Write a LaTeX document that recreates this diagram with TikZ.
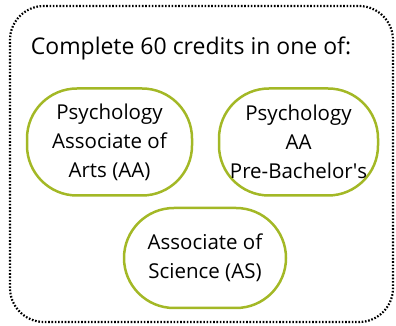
\documentclass[tikz,border=0pt]{standalone}
\usepackage{fontspec}
\setmainfont{Open Sans}
\usetikzlibrary{positioning}

\definecolor{degreegreen}{RGB}{163,184,38}

\tikzset{
    degree/.style={draw=degreegreen, line width=2.5pt, rounded corners=50pt,
        align=center, font=\fontsize{20.5}{29}\selectfont, inner sep=0pt},
}

\begin{document}
\begin{tikzpicture}[x=1pt, y=1pt]

    % Frame
    \useasboundingbox (0, 0) rectangle (396, 326);
    \draw [line width=2.2pt, dash pattern=on 1.6pt off 1.7pt, rounded corners=34pt] (10, 4) rectangle (393, 320);

    % Heading
    \node (heading) at (191, 278) {\fontsize{23}{28}\selectfont Complete 60 credits in one of:};

    % Degrees
    \node [degree, minimum width=165pt, minimum height=107pt] (psyaa) at (109.5, 184) {Psychology\\Associate of\\Arts (AA)};
    \node [degree, minimum width=159pt, minimum height=107pt] (psypre) at (298.5, 184) {Psychology\\AA\\Pre-Bachelor\textquotesingle s};
    \node [degree, minimum width=162pt, minimum height=100pt] (sci) at (205, 68) {Associate of\\Science (AS)};

\end{tikzpicture}
\end{document}
